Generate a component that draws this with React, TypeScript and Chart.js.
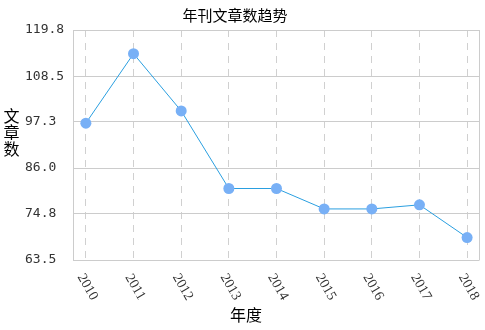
import { useEffect, useRef } from "react";
import { Chart, registerables } from "chart.js";

Chart.register(...registerables);

const categories = ["2010", "2011", "2012", "2013", "2014", "2015", "2016", "2017", "2018"];
const articleCounts = [97, 114, 100, 81, 81, 76, 76, 77, 69];
const yTickValues = [63.5, 74.8, 86.0, 97.3, 108.5, 119.8];
const titleText = "年刊文章数趋势";
const xAxisTitle = "年度";
const yAxisTitle = ["文", "章", "数"];

const CJK = '"Noto Sans CJK SC", "Noto Sans", sans-serif';

const textPlugin = {
  id: "customText",
  afterDraw(chart: any) {
    const ctx = chart.ctx as CanvasRenderingContext2D;
    const area = chart.chartArea;
    const xs = chart.scales.x;
    ctx.save();
    // right border of plot frame
    ctx.strokeStyle = "#cccccc";
    ctx.lineWidth = 1;
    ctx.setLineDash([]);
    const rx = Math.round(area.right) - 0.5;
    ctx.beginPath();
    ctx.moveTo(rx, area.top);
    ctx.lineTo(rx, area.bottom);
    ctx.stroke();

    // rotated x labels
    ctx.fillStyle = "#333333";
    ctx.font = '14px "Liberation Serif", serif';
    ctx.textAlign = "center";
    ctx.textBaseline = "middle";
    categories.forEach((c, i) => {
      const x = xs.getPixelForValue(i);
      ctx.save();
      ctx.translate(x + 1.5, area.bottom + 27);
      ctx.rotate(Math.PI / 3);
      ctx.fillText(c, 0, 0);
      ctx.restore();
    });

    // title
    ctx.fillStyle = "#000000";
    ctx.font = "15px " + CJK;
    ctx.fillText(titleText, 235, 15);

    // x axis title
    ctx.font = "16px " + CJK;
    ctx.fillText(xAxisTitle, 246, 315);

    // y axis title, stacked vertically
    yAxisTitle.forEach((ch, i) => {
      ctx.fillText(ch, 11.5, 115.5 + i * 16.5);
    });
    ctx.restore();
  },
};

export default function App() {
  const ref = useRef<HTMLCanvasElement | null>(null);
  useEffect(() => {
    if (!ref.current) return;
    const chart = new Chart(ref.current, {
      type: "line",
      data: {
        datasets: [
          {
            data: articleCounts.map((v, i) => ({ x: i, y: v })),
            borderColor: "#2a9fe0",
            borderWidth: 1,
            pointBackgroundColor: "#78b0f6",
            pointBorderColor: "#78b0f6",
            pointRadius: 5.5,
            pointBorderWidth: 0,
            fill: false,
            tension: 0,
          },
        ],
      },
      options: {
        animation: false,
        responsive: false,
        layout: { padding: { left: 25, top: 30, right: 1, bottom: 70 } },
        plugins: { legend: { display: false }, title: { display: false }, tooltip: { enabled: false } },
        scales: {
          x: {
            type: "linear",
            min: -0.27,
            max: 8.26,
            ticks: { display: false, includeBounds: false, stepSize: 1 },
            afterBuildTicks: (s: any) => {
              s.ticks = categories.map((_, i) => ({ value: i }));
            },
            afterFit: (s: any) => {
              s.height = 0;
            },
            grid: { color: "#d0d0d0", drawTicks: false },
            border: { display: false, dash: [7, 6] },
          },
          y: {
            min: yTickValues[0],
            max: yTickValues[yTickValues.length - 1],
            afterBuildTicks: (s: any) => {
              s.ticks = yTickValues.map((v) => ({ value: v }));
            },
            afterFit: (s: any) => {
              s.width = 48;
            },
            ticks: {
              crossAlign: "far",
              color: "#333333",
              font: { family: '"DejaVu Sans Mono", monospace', size: 13 },
              callback: (v: any) => Number(v).toFixed(1),
            },
            grid: { color: "#cccccc", drawTicks: false },
            border: { display: true, color: "#cccccc" },
          },
        },
      },
      plugins: [textPlugin],
    });
    return () => chart.destroy();
  }, []);
  return (
    <div style={{ position: "absolute", left: 0, top: 0, width: 485, height: 330, background: "#ffffff" }}>
      <canvas ref={ref} width={485} height={330} />
    </div>
  );
}
